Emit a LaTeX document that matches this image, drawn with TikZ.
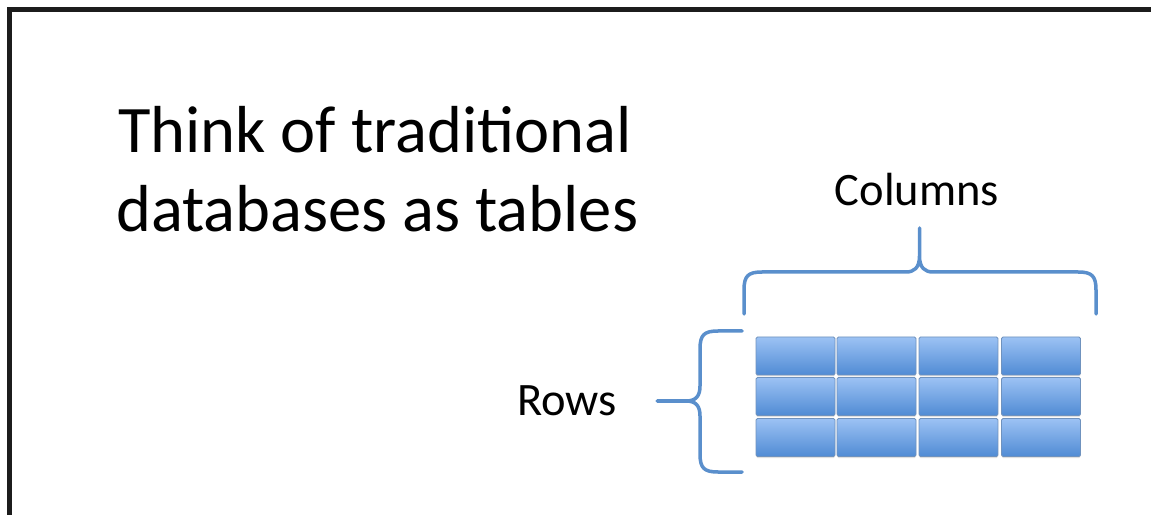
\documentclass[tikz,border=0pt]{standalone}
\usepackage{fontspec}
\setmainfont{Carlito}
\usetikzlibrary{shadows}
\definecolor{framec}{HTML}{1C1C1C}
\definecolor{bracec}{HTML}{5A8FCC}
\definecolor{celltop}{HTML}{9CC2F4}
\definecolor{cellbot}{HTML}{508BD4}
\definecolor{celledge}{HTML}{6F92BE}
\tikzset{
  cell/.style={rectangle, rounded corners=1.5bp, draw=celledge, line width=0.8bp,
    top color=celltop, bottom color=cellbot,
    minimum width=79bp, minimum height=38bp, inner sep=0pt,
    drop shadow={opacity=0.25, shadow xshift=0bp, shadow yshift=-1.5bp}},
  brace/.style={draw=bracec, line width=3.5bp, line cap=round, line join=round},
  label/.style={inner sep=0pt, text=black},
}
\begin{document}
\begin{tikzpicture}[x=1bp,y=-1bp]
\useasboundingbox (0,0) rectangle (1151,515);
\fill[white] (0,0) rectangle (1151,515);
% page frame: left and top edges
\draw[framec, line width=4.5bp] (9.5,515) -- (9.5,9.5) -- (1151,9.5);

% title
\node[label, anchor=base west, font=\fontsize{66.5bp}{80bp}\selectfont] (title1) at (118,153) {Think of traditional};
\node[label, anchor=base west, font=\fontsize{66.5bp}{80bp}\selectfont] (title2) at (116,232) {databases as tables};

% labels
\node[label, anchor=base, font=\fontsize{46.5bp}{54bp}\selectfont] (cols) at (917,206) {Columns};
\node[label, anchor=base west, font=\fontsize{46.5bp}{54bp}\selectfont] (rows) at (517,415) {Rows};

% table cells
\foreach \r/\y in {1/356, 2/396.5, 3/437.5}{
  \foreach \c/\x in {1/795.5, 2/876.5, 3/958.5, 4/1041}{
    \node[cell] (c\r\c) at (\x,\y) {};
  }
}

% brace over the columns
\coordinate (tl) at (744,314);
\coordinate (tr) at (1096,314);
\coordinate (ttip) at (919.5,228);
\draw[brace] (tl) -- (744,290) .. controls (744,276) and (748,272) .. (762,272)
  -- (906,272) .. controls (914,272) and (919.5,268) .. (919.5,256) -- (ttip)
  -- (919.5,256) .. controls (919.5,268) and (925,272) .. (933,272)
  -- (1078,272) .. controls (1092,272) and (1096,276) .. (1096,290) -- (tr);

% brace beside the rows
\coordinate (lt) at (742,331);
\coordinate (lb) at (742,472);
\coordinate (ltip) at (657,401);
\draw[brace] (lt) -- (718,331) .. controls (704,331) and (700,335) .. (700,349)
  -- (700,386) .. controls (700,396) and (696,401) .. (686,401) -- (ltip)
  -- (686,401) .. controls (696,401) and (700,406) .. (700,416)
  -- (700,454) .. controls (700,468) and (704,472) .. (718,472) -- (lb);
\end{tikzpicture}
\end{document}
